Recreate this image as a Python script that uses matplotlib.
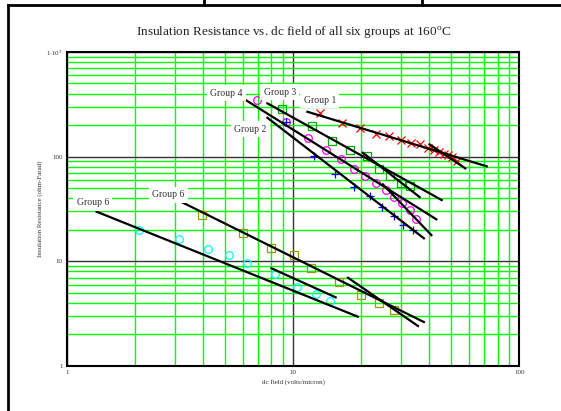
import matplotlib
matplotlib.use('Agg')
import matplotlib.pyplot as plt
from matplotlib.lines import Line2D
from matplotlib.ticker import LogLocator, FixedLocator, FixedFormatter, NullFormatter

plt.rcParams['font.family'] = ['Liberation Serif', 'DejaVu Serif']
plt.rcParams['mathtext.fontset'] = 'custom'
plt.rcParams['mathtext.rm'] = 'Liberation Serif'

# measured points (dc field in volts/micron, IR in ohm-Farad)
g1_x = [13.1, 16.5, 19.7, 23.1, 26.4, 29.8, 33.0, 36.2, 39.3, 41.7, 43.9, 46.2, 48.1, 50.1, 52.7]
g1_y = [261, 209, 186, 166, 156, 144, 136, 131, 121, 117, 111, 107, 104, 98.5, 91.8]

g2_x = [9.29, 12.3, 15.3, 18.5, 21.8, 24.8, 27.9, 30.7, 33.8]
g2_y = [213, 101, 69.0, 51.8, 42.1, 33.2, 27.1, 22.2, 19.9]

g3_x = [8.9, 12.1, 14.9, 17.9, 21.1, 23.9, 26.9, 30.0, 32.9]
g3_y = [288, 197, 142, 116, 101, 75.6, 65.7, 56.4, 52.7]

g4_x = [6.95, 9.27, 11.6, 13.9, 16.3, 18.5, 20.8, 23.3, 25.6, 27.9, 30.3, 32.7, 34.9]
g4_y = [347, 213, 152, 116, 95.9, 76.9, 65.6, 55.6, 48.3, 41.1, 35.8, 30.9, 25.4]

g5_x = [2.09, 3.13, 4.19, 5.18, 6.26, 8.31, 10.4, 12.6, 14.6]
g5_y = [20.0, 16.2, 13.2, 11.4, 9.74, 7.56, 5.72, 4.84, 4.20]

g6_x = [3.97, 6.0, 8.01, 10.05, 12.0, 15.9, 20.0, 23.9, 27.9]
g6_y = [27.7, 18.8, 13.4, 11.5, 8.67, 6.34, 4.73, 4.02, 3.45]

# fitted lines: (x start, x end), (y start, y end)
fits = [
    ((11.55, 71.7), (268.5, 80.8)),   # group 1
    ((40.05, 57.6), (131.1, 77.3)),   # group 1, high field
    ((7.69, 37.8), (235.2, 16.6)),    # group 2
    ((7.69, 45.3), (323.0, 38.5)),    # group 3
    ((20.3, 36.2), (109.0, 41.1)),    # group 3, high field
    ((6.07, 42.9), (354.9, 25.2)),    # group 4
    ((24.9, 40.8), (54.4, 17.8)),     # group 4, high field
    ((1.352, 19.3), (29.8, 2.96)),    # cyan group
    ((8.01, 15.4), (8.58, 4.53)),     # cyan group, high field
    ((3.19, 37.8), (37.1, 2.63)),     # olive group
    ((17.46, 35.6), (6.97, 2.41)),    # olive group, high field
]

labels = ['Group 4', 'Group 3', 'Group 1', 'Group 2', 'Group 6', 'Group 6']
label_x = [5.07, 8.72, 13.1, 6.47, 1.30, 2.81]
label_y = [402, 411, 347, 182, 36.3, 43.4]

fig = plt.figure(figsize=(5.61, 4.11), dpi=100)
ax = fig.add_axes([0.1194, 0.1095, 0.8066, 0.764])
ax.set_xscale('log')
ax.set_yscale('log')
ax.set_xlim(1, 100)
ax.set_ylim(1, 1000)

ax.xaxis.set_minor_locator(LogLocator(base=10, subs=range(2, 10)))
ax.yaxis.set_minor_locator(LogLocator(base=10, subs=range(2, 10)))
ax.xaxis.set_minor_formatter(NullFormatter())
ax.yaxis.set_minor_formatter(NullFormatter())
ax.grid(which='minor', color='#00ff00', lw=1.0, zorder=0)
ax.grid(which='major', color='#333333', lw=1.0, zorder=0)
ax.set_axisbelow(True)

ax.xaxis.set_major_locator(FixedLocator([1, 10, 100]))
ax.xaxis.set_major_formatter(FixedFormatter(['1', '10', '100']))
ax.yaxis.set_major_locator(FixedLocator([1, 10, 100, 1000]))
ax.yaxis.set_major_formatter(FixedFormatter(['1', '10', '100', r'1$\cdot$10$^3$']))
ax.tick_params(which='both', length=0, labelsize=5, labelcolor='#333333', pad=3)

for s in ax.spines.values():
    s.set_linewidth(1.5)
    s.set_color('black')

mk = dict(ls='none', ms=5.5, mew=0.9, mfc='none', zorder=3)
ax.plot(g1_x, g1_y, marker='x', color='#ff0000', **mk)
ax.plot(g3_x, g3_y, marker='s', color='#00b000', **mk)
ax.plot(g4_x, g4_y, marker='o', color='#ff00ff', **mk)
ax.plot(g2_x, g2_y, marker='+', color='#0000ff', **mk)
ax.plot(g5_x, g5_y, marker='o', color='#00ffff', **mk)
ax.plot(g6_x, g6_y, marker='s', color='#999900', **mk)

for fx, fy in fits:
    ax.plot(fx, fy, color='black', lw=1.6, zorder=4)

for t, lx, ly in zip(labels, label_x, label_y):
    ax.text(lx, ly, t, fontsize=7, color='#333333', ha='center', va='center', zorder=5,
            bbox=dict(facecolor='white', edgecolor='none', pad=2.5))

fig.text(0.524, 0.92, r'Insulation Resistance vs. dc field of all six groups at 160$^{\mathrm{o}}$C',
         fontsize=9.5, color='#222222', ha='center', va='center')
ax.set_xlabel('dc field (volts/micron)', fontsize=5, color='#333333', labelpad=3)
ax.set_ylabel('Insulation Resistance (ohm-Farad)', fontsize=5, color='#333333')
ax.yaxis.set_label_coords(-0.053, 0.5)

# page frame around the figure
fig.add_artist(Line2D([8 / 561, 8 / 561], [0, 1 - 5 / 411], color='black', lw=2))
fig.add_artist(Line2D([8 / 561, 1], [1 - 5 / 411, 1 - 5 / 411], color='black', lw=2))
fig.add_artist(Line2D([204 / 561, 204 / 561], [1 - 5 / 411, 1], color='black', lw=2))
fig.add_artist(Line2D([422 / 561, 422 / 561], [1 - 5 / 411, 1], color='black', lw=2))

fig.savefig('out.png', dpi=100)
plt.close(fig)
